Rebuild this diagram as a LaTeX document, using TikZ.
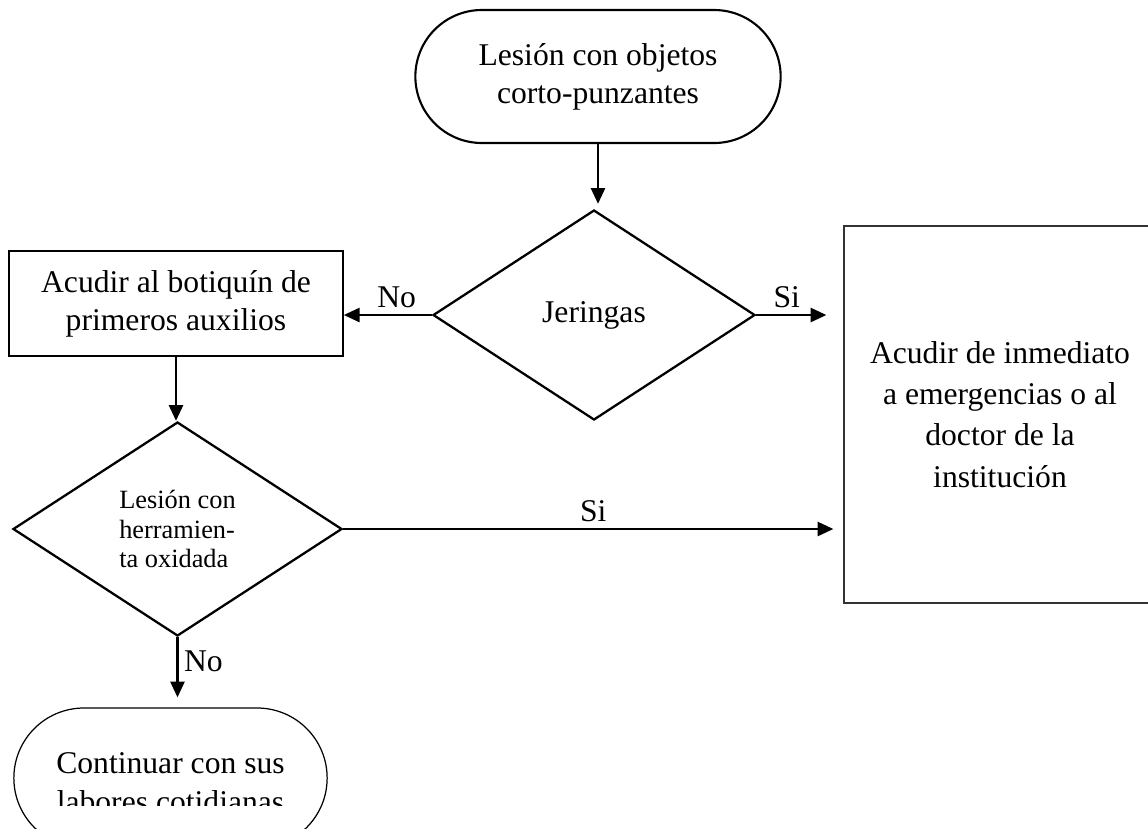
\documentclass[tikz,border=0pt]{standalone}
\usepackage{fontspec}
\setmainfont{Liberation Serif}
\usetikzlibrary{positioning,shapes.geometric,shapes.misc,arrows.meta}

\begin{document}
\begin{tikzpicture}[every node/.style={font=\fontsize{18}{21.5}\selectfont},
  terminal/.style={draw, rounded rectangle, line width=1.2pt, align=center},
  decision/.style={draw, diamond, line width=1.3pt, inner sep=0pt, align=center},
  proceso/.style={draw, rectangle, line width=0.9pt, align=center},
  flecha/.style={-{Triangle[length=9pt,width=8pt]}, line width=1.4pt}]
\clip (0,0) rectangle (22.96,-16.56);
\node[terminal, minimum width=7.54cm, minimum height=2.66cm] (lesion) at (11.96,-1.53) {Lesión con objetos\\corto-punzantes};
\node[decision, minimum width=6.44cm, minimum height=4.2cm] (jeringas) at (11.88,-6.30) {Jeringas};
\node[proceso, minimum width=6.68cm, minimum height=2.1cm] (botiquin) at (3.52,-6.07) {Acudir al botiquín de\\primeros auxilios};
\node[proceso, line width=0.7pt, draw=black!80, minimum width=6.24cm, minimum height=7.54cm, font=\fontsize{18}{23.5}\selectfont] (urgencias) at (20.0,-8.29) {Acudir de inmediato\\a emergencias o al\\doctor de la\\institución};
\node[decision, minimum width=6.58cm, minimum height=4.28cm, align=left, font=\fontsize{15}{17}\selectfont] (oxidada) at (3.55,-10.58) {Lesión con\\herramien-\\ta oxidada};
\node[terminal, line width=0.7pt, minimum width=6.5cm, minimum height=2.8cm] (continuar) at (3.41,-15.56) {};
\begin{scope}
  \clip (0,0) rectangle (22.96,-16.1);
  \node[align=center, font=\fontsize{18}{22.5}\selectfont] (continuartxt) at (3.41,-15.65) {Continuar con sus\\labores cotidianas};
\end{scope}
% conectores
\draw[flecha, shorten >=0.1cm] (lesion.south) -- (lesion.south |- jeringas.north);
\draw[flecha] (jeringas.west) -- (jeringas.west -| botiquin.east) node[pos=.4, above] {No};
\draw[flecha, shorten >=0.34cm] (jeringas.east) -- (jeringas.east -| urgencias.west) node[pos=.35, above] {Si};
\draw[flecha] (botiquin.south) -- (botiquin.south |- oxidada.north);
\draw[flecha, shorten >=0.2cm] (oxidada.east) -- (oxidada.east -| urgencias.west) node[midway, above] {Si};
\draw[flecha, shorten >=0.2cm] (oxidada.south) -- (oxidada.south |- continuar.north) node[pos=.35, right, inner sep=3pt] {No};
\end{tikzpicture}
\end{document}
